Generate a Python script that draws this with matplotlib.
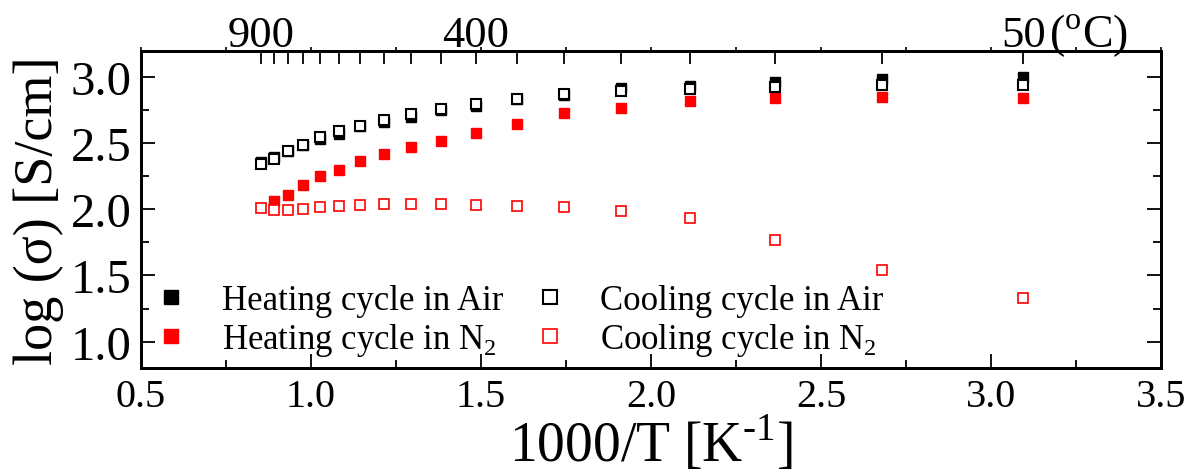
import numpy as np
import matplotlib
matplotlib.use("Agg")
import matplotlib.pyplot as plt
from matplotlib.ticker import MultipleLocator

plt.rcParams['font.family'] = ['Liberation Serif', 'DejaVu Serif']
plt.rcParams['mathtext.fontset'] = 'custom'
plt.rcParams['mathtext.rm'] = 'Liberation Serif'

# temperatures of the measurement points (deg C)
temps_c = [900, 850, 800, 750, 700, 650, 600, 550, 500, 450,
           400, 350, 300, 250, 200, 150, 100, 50]

# log(sigma) readings
heat_air = [2.357, 2.395, 2.442, 2.49, 2.53, 2.57, 2.63, 2.663, 2.70, 2.755,
            2.785, 2.834, 2.868, 2.915, 2.932, 2.965, 2.985, 3.0]
cool_air = [2.344, 2.382, 2.442, 2.49, 2.545, 2.593, 2.63, 2.678, 2.725, 2.762,
            2.80, 2.834, 2.872, 2.896, 2.907, 2.924, 2.942, 2.944]
heat_n2 = [np.nan, 2.06, 2.111, 2.181, 2.251, 2.301, 2.362, 2.42, 2.475, 2.52,
           2.575, 2.643, 2.726, 2.769, 2.816, 2.844, 2.852, 2.842]
cool_n2 = [2.008, 1.992, 1.995, 2.005, 2.015, 2.025, 2.030, 2.038, 2.038, 2.038,
           2.035, 2.025, 2.015, 1.99, 1.935, 1.767, 1.538, 1.332]

top_labels = {900: '900', 400: '400', 50: '50'}

x = 1000.0 / (np.array(temps_c) + 273.15)

fig = plt.figure(figsize=(12.01, 4.77), dpi=100)
ax = fig.add_axes([0.1174, 0.2264, 0.8493, 0.6652])

ms = 7.2
ax.plot(x, heat_air, 's', color='black', ms=ms, mec='black', label='Heating cycle in Air')
ax.plot(x, heat_n2, 's', color='red', ms=ms, mec='red', label='Heating cycle in N$_2$')
ax.plot(x, cool_air, 's', mfc='white', mec='black', mew=1.5, ms=ms, label='Cooling cycle in Air')
ax.plot(x, cool_n2, 's', mfc='white', mec='red', mew=1.2, ms=ms, label='Cooling cycle in N$_2$')

ax.set_xlim(0.5, 3.5)
ax.set_ylim(0.8, 3.2)
ax.xaxis.set_major_locator(MultipleLocator(0.5))
ax.xaxis.set_minor_locator(MultipleLocator(0.25))
ax.yaxis.set_major_locator(MultipleLocator(0.5))
ax.yaxis.set_minor_locator(MultipleLocator(0.25))
ax.xaxis.set_major_formatter(matplotlib.ticker.FormatStrFormatter('%.1f'))
ax.yaxis.set_major_formatter(matplotlib.ticker.FormatStrFormatter('%.1f'))

ax.tick_params(axis='y', which='both', direction='in', right=True, width=1.3)
ax.tick_params(axis='y', which='major', length=10, labelsize=35, pad=7)
ax.tick_params(axis='y', which='minor', length=6)
ax.tick_params(axis='x', which='both', direction='in', width=1.3)
ax.tick_params(axis='x', which='major', length=10, labelsize=29, pad=7)
ax.tick_params(axis='x', which='minor', length=6)
for s in ax.spines.values():
    s.set_linewidth(2)

ax.set_ylabel('log (σ) [S/cm]', fontsize=39)
ax.yaxis.set_label_coords(-0.075, 0.5)
ax.set_xlabel('1000/T [K$^{\\text{-1}}$]', fontsize=40, va='top')
ax.xaxis.set_label_coords(0.5, -0.142)

# top temperature axis
ax2 = ax.twiny()
ax2.set_xlim(ax.get_xlim())
ax2.set_xticks(x)
ax2.set_xticklabels([top_labels.get(t, '') for t in temps_c])
ax2.tick_params(axis='x', direction='in', length=9, width=1.3, labelsize=32, pad=-3)
ax2.set_xticks(np.arange(0.5, 3.51, 0.25), minor=True)
ax2.tick_params(axis='x', which='minor', direction='out', length=3, width=1.2)
for s in ax2.spines.values():
    s.set_linewidth(2)
ax2.text(0.89, 1.015, '($^{\\rm o}$C)', transform=ax.transAxes,
         fontsize=33, ha='left', va='baseline')

leg = ax.legend(loc='upper left', bbox_to_anchor=(0.0127, 0.265), ncol=2,
                frameon=False, fontsize=25, handlelength=1.0, handletextpad=0.95,
                columnspacing=0.84, labelspacing=0.12, borderpad=0,
                borderaxespad=0, markerscale=1.35)

fig.savefig('out.png', dpi=100)
